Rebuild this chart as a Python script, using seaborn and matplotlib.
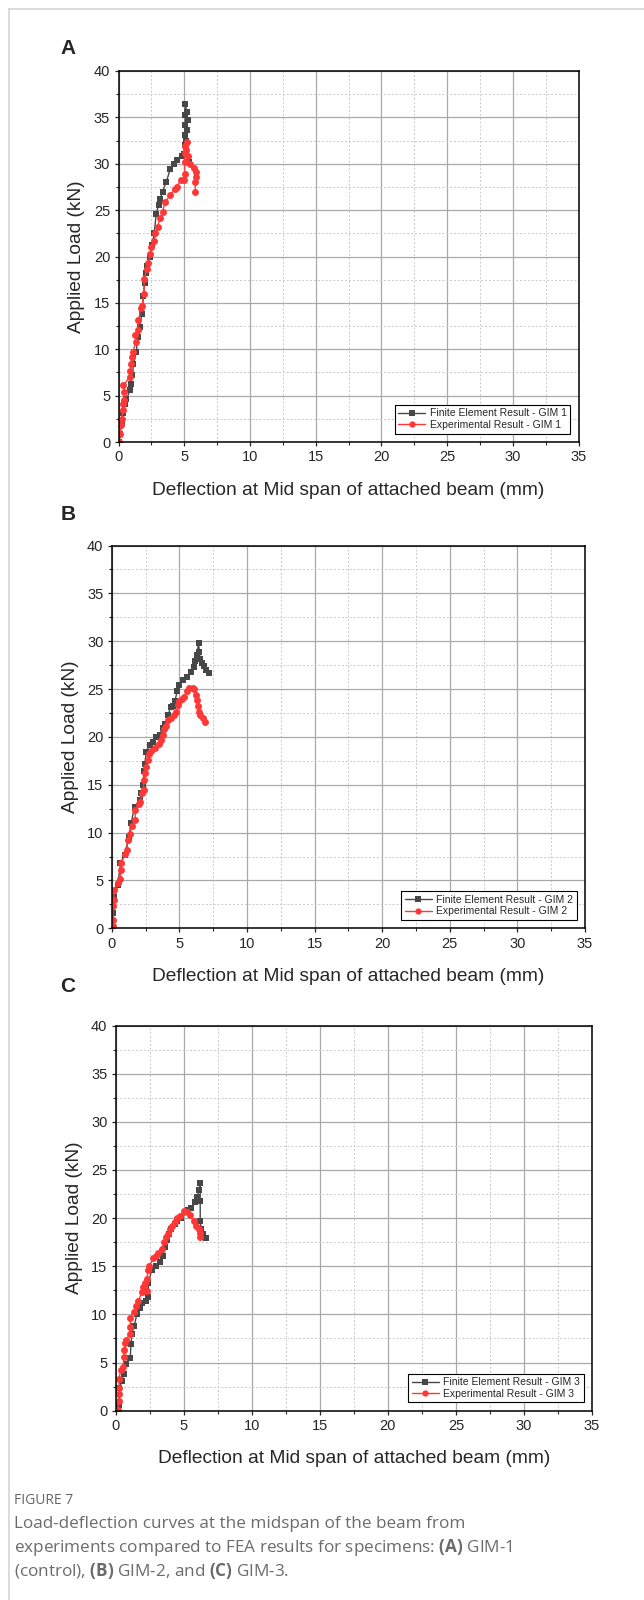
import matplotlib
matplotlib.use("Agg")
import matplotlib.pyplot as plt
import seaborn as sns
from matplotlib.lines import Line2D
from matplotlib.ticker import MultipleLocator

# GIM 1 (control)
fe1_x = [0.05, 0.13, 0.25, 0.38, 0.5, 0.6, 0.89, 0.96, 1.05, 1.14, 1.35, 1.47, 1.6, 1.78, 1.9, 1.98,
         2.06, 2.16, 2.41, 2.54, 2.72, 2.87, 3.05, 3.17, 3.35, 3.63, 3.93, 4.2, 4.45, 4.8, 5.0, 5.03,
         5.08, 5.08, 5.08, 5.08, 5.2, 5.25, 5.2, 5.15, 5.33]
fe1_y = [0.0, 0.9, 2.0, 3.1, 4.1, 4.6, 5.6, 6.3, 7.2, 8.4, 9.7, 11.3, 12.4, 13.8, 15.7, 17.1,
         18.2, 19.0, 20.0, 21.2, 22.5, 24.6, 25.6, 26.2, 27.0, 28.0, 29.4, 30.0, 30.4, 30.8, 31.1, 32.0,
         33.1, 34.2, 35.3, 36.4, 35.6, 34.7, 33.6, 32.5, 30.2]
ex1_x = [0.05, 0.13, 0.18, 0.25, 0.33, 0.38, 0.43, 0.43, 0.38, 0.84, 0.89, 0.94, 1.02, 1.09, 1.32, 1.27,
         1.47, 1.52, 1.7, 1.78, 1.95, 1.95, 2.16, 2.28, 2.41, 2.49, 2.72, 2.79, 2.97, 3.17, 3.35, 3.55,
         3.93, 4.3, 4.44, 4.75, 4.95, 5.03, 5.03, 5.03, 5.08, 5.2, 5.15, 5.25, 5.46, 5.71, 5.89, 5.92,
         5.84, 5.84]
ex1_y = [0.0, 0.9, 1.8, 2.5, 3.4, 4.1, 4.5, 5.4, 6.1, 7.0, 7.7, 8.4, 9.2, 9.7, 10.8, 11.5,
         12.1, 13.1, 14.4, 14.7, 16.0, 17.6, 18.7, 19.3, 20.3, 21.0, 21.7, 22.5, 23.2, 24.2, 24.8, 25.9,
         26.6, 27.3, 27.5, 28.3, 28.3, 28.9, 30.2, 31.2, 31.9, 32.3, 31.5, 30.8, 30.0, 29.5, 29.1, 28.6,
         28.0, 27.0]

# GIM 2
fe2_x = [0.07, 0.12, 0.2, 0.45, 0.65, 0.95, 1.27, 1.44, 1.69, 2.06, 2.19, 2.31, 2.39, 2.44, 2.56, 2.81,
         3.06, 3.26, 3.56, 3.76, 3.93, 4.18, 4.35, 4.55, 4.68, 4.85, 5.0, 5.3, 5.6, 5.85, 6.05, 6.17,
         6.3, 6.42, 6.49, 6.54, 6.67, 6.79, 6.99, 7.16]
fe2_y = [0.0, 1.6, 3.3, 4.5, 6.8, 7.7, 9.5, 11.0, 12.7, 13.4, 14.1, 15.0, 16.4, 17.2, 18.4, 19.2,
         19.5, 19.96, 20.2, 20.9, 21.4, 22.3, 23.1, 23.2, 23.8, 24.8, 25.4, 25.9, 26.3, 26.8, 27.3, 27.9,
         28.6, 29.8, 28.9, 28.1, 27.7, 27.4, 27.0, 26.7]
ex2_x = [0.07, 0.07, 0.12, 0.15, 0.2, 0.45, 0.62, 0.7, 0.7, 1.02, 1.12, 1.19, 1.32, 1.52, 1.74, 1.74,
         2.01, 2.11, 2.26, 2.36, 2.36, 2.44, 2.56, 2.69, 2.76, 2.93, 3.18, 3.51, 3.68, 3.81, 3.88, 3.98,
         4.18, 4.35, 4.6, 4.75, 4.93, 5.0, 5.17, 5.35, 5.55, 5.75, 6.0, 6.1, 6.2, 6.3, 6.37, 6.42,
         6.54, 6.74, 6.87]
ex2_y = [0.2, 0.9, 2.3, 3.0, 4.0, 4.7, 5.2, 6.1, 6.8, 7.8, 8.2, 9.2, 9.9, 10.7, 11.3, 12.4,
         13.0, 13.2, 14.1, 14.5, 15.5, 16.2, 16.9, 17.6, 18.2, 18.5, 18.8, 19.3, 19.7, 20.2, 20.8, 21.1,
         21.8, 22.0, 22.3, 22.6, 23.3, 23.8, 24.0, 24.2, 24.8, 25.1, 25.1, 25.0, 24.4, 23.9, 23.2, 22.6,
         22.3, 22.0, 21.6]

# GIM 3
fe3_x = [0.15, 0.22, 0.27, 0.46, 0.58, 0.75, 1.07, 1.12, 1.19, 1.36, 1.55, 1.75, 1.92, 2.23, 2.4, 2.4,
         2.65, 2.96, 3.25, 3.5, 3.62, 3.74, 3.91, 4.1, 4.34, 4.51, 4.83, 5.32, 5.56, 5.8, 6.0, 6.12,
         6.21, 6.21, 6.21, 6.29, 6.41, 6.6]
fe3_y = [0.0, 0.6, 2.4, 3.1, 3.8, 4.9, 5.5, 6.9, 8.0, 8.8, 10.0, 10.7, 11.2, 11.4, 11.8, 13.3,
         14.6, 15.0, 15.4, 16.1, 17.0, 17.7, 18.4, 18.9, 19.4, 19.7, 20.0, 20.8, 21.1, 21.7, 22.2, 22.9,
         23.6, 21.8, 19.7, 18.9, 18.4, 17.9]
ex3_x = [0.15, 0.22, 0.27, 0.27, 0.22, 0.39, 0.53, 0.63, 0.63, 0.7, 0.78, 1.02, 1.07, 1.07, 1.31, 1.5,
         1.67, 1.92, 2.04, 2.16, 2.33, 2.28, 2.4, 2.48, 2.77, 2.96, 3.13, 3.37, 3.54, 3.68, 3.86, 3.98,
         4.17, 4.34, 4.51, 4.71, 5.0, 5.24, 5.49, 5.73, 5.92, 6.12, 6.21, 6.17]
ex3_y = [0.1, 1.0, 1.7, 2.4, 3.3, 4.2, 4.5, 5.6, 6.3, 7.0, 7.3, 8.0, 8.7, 9.6, 10.3, 10.9,
         11.4, 12.3, 12.8, 13.3, 12.4, 13.7, 14.6, 15.0, 15.9, 16.1, 16.4, 16.8, 17.5, 18.0, 18.3, 18.9,
         19.2, 19.6, 20.0, 20.2, 20.7, 20.6, 20.3, 19.7, 19.2, 18.9, 18.5, 18.0]

panels = ["A", "B", "C"]
fe_labels = ["Finite Element Result - GIM 1", "Finite Element Result - GIM 2", "Finite Element Result - GIM 3"]
ex_labels = ["Experimental Result - GIM 1", "Experimental Result - GIM 2", "Experimental Result - GIM 3"]
fe_data = [(fe1_x, fe1_y), (fe2_x, fe2_y), (fe3_x, fe3_y)]
ex_data = [(ex1_x, ex1_y), (ex2_x, ex2_y), (ex3_x, ex3_y)]

sns.set_style("ticks")
plt.rcParams["font.family"] = ["Liberation Sans", "DejaVu Sans"]
plt.rcParams["mathtext.fontset"] = "custom"
plt.rcParams["mathtext.bf"] = "Open Sans:bold"
plt.rcParams["mathtext.rm"] = "Open Sans"

W, H = 644, 1600
fig = plt.figure(figsize=(W / 100, H / 100), dpi=100)
fig.patch.set_facecolor("white")

# axes boxes in pixels: left, top, right, bottom
boxes = [(118.5, 71, 578.5, 442), (111.7, 545.5, 585, 928.3), (115.7, 1025.5, 592, 1410.7)]
letter_pos = [(68, 48), (68, 515), (68, 987)]

fe_color = "#474747"
ex_color = "#ff3737"

for i in range(3):
    l, t, r, b = boxes[i]
    ax = fig.add_axes([l / W, 1 - b / H, (r - l) / W, (b - t) / H])
    ax.set_xlim(0, 35)
    ax.set_ylim(0, 40)
    ax.xaxis.set_major_locator(MultipleLocator(5))
    ax.yaxis.set_major_locator(MultipleLocator(5))
    ax.xaxis.set_minor_locator(MultipleLocator(2.5))
    ax.yaxis.set_minor_locator(MultipleLocator(2.5))
    ax.grid(which="major", color="#a9a9a9", lw=0.9, ls="-")
    ax.grid(which="minor", color="#c9c9c9", lw=0.7, ls=(0, (2, 2)))
    ax.set_axisbelow(True)
    ax.tick_params(which="major", direction="out", length=3, width=0.9, labelsize=10.5, pad=3)
    ax.tick_params(which="minor", direction="out", length=2, width=0.8)
    for s in ax.spines.values():
        s.set_linewidth(1.1)
        s.set_color("black")

    fx, fy = fe_data[i]
    exx, exy = ex_data[i]
    sns.lineplot(x=fx, y=fy, ax=ax, sort=False, estimator=None, color=fe_color, lw=1,
                 marker="s", markersize=4.2, markeredgewidth=0, label=fe_labels[i], legend=False)
    sns.lineplot(x=exx, y=exy, ax=ax, sort=False, estimator=None, color=ex_color, lw=1,
                 marker="o", markersize=5, markeredgewidth=0, label=ex_labels[i], legend=False)

    handles = [Line2D([], [], color=fe_color, lw=1, marker="s", markersize=3.8, markeredgewidth=0),
               Line2D([], [], color=ex_color, lw=1, marker="o", markersize=4.5, markeredgewidth=0)]
    leg = ax.legend(handles, [fe_labels[i], ex_labels[i]], loc="lower right", fontsize=7.5,
                    frameon=True, fancybox=False, framealpha=1, edgecolor="black",
                    handlelength=2.6, borderaxespad=0.8, borderpad=0.35, labelspacing=0.15,
                    handletextpad=0.4)
    leg.get_frame().set_linewidth(0.8)

    ax.set_xlabel("Deflection at Mid span of attached beam (mm)", fontsize=13.8, labelpad=12.5)
    ax.set_ylabel("Applied Load (kN)", fontsize=13.8, labelpad=6)

    lx, ly = letter_pos[i]
    fig.text(lx / W, 1 - ly / H, panels[i], fontsize=15, fontweight="bold", ha="center", va="center")

# outer frame (left and top edges)
fig.add_artist(Line2D([9 / W, 9 / W], [0, 1 - 9 / H], color="#d4d4d4", lw=1.2))
fig.add_artist(Line2D([9 / W, 1], [1 - 9 / H, 1 - 9 / H], color="#d4d4d4", lw=1.2))

# caption
cap_font = ["Open Sans", "DejaVu Sans"]
fig.text(14 / W, 1 - 1501 / H, "FIGURE 7", fontsize=10, color="#666666", family=cap_font, va="center")
cap_lines = ["Load-deflection curves at the midspan of the beam from",
             "experiments compared to FEA results for specimens: $\\mathbf{(A)}$ GIM-1",
             "(control), $\\mathbf{(B)}$ GIM-2, and $\\mathbf{(C)}$ GIM-3."]
for k, line in enumerate(cap_lines):
    fig.text(14 / W, 1 - (1524 + 23.5 * k) / H, line, fontsize=12.3, color="#6b6b6b",
             family=cap_font, va="center")

fig.savefig("out.png", dpi=100, facecolor="white")
